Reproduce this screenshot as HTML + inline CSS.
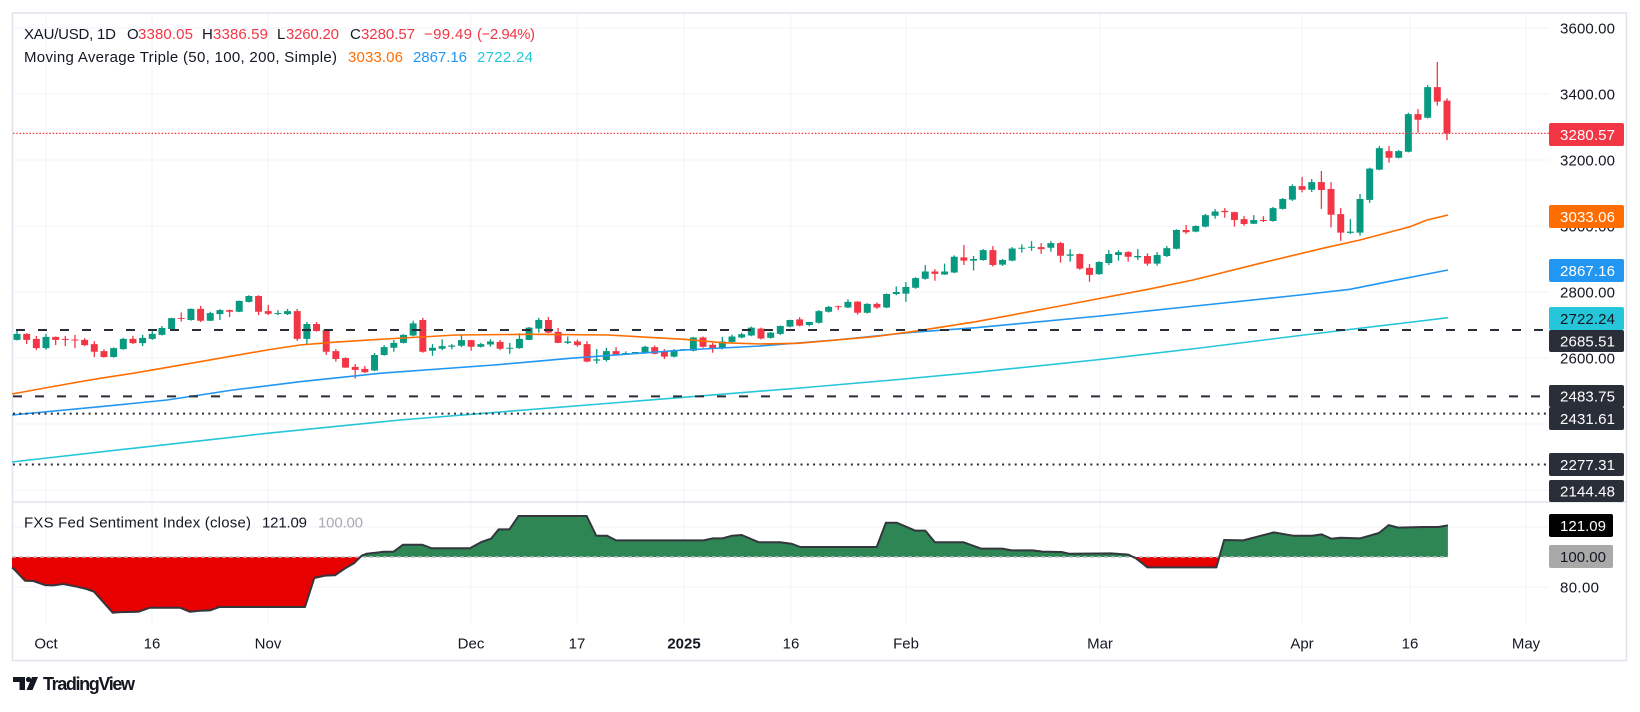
<!DOCTYPE html>
<html><head><meta charset="utf-8"><style>
html,body{margin:0;padding:0;background:#fff;}
body{width:1640px;height:707px;overflow:hidden;}
svg text{font-family:"Liberation Sans",sans-serif;}
</style></head><body>
<svg width="1640" height="707" viewBox="0 0 1640 707" xmlns="http://www.w3.org/2000/svg">
<rect x="0" y="0" width="1640" height="707" fill="#fff"/>
<rect x="12.5" y="13" width="1614" height="647.5" fill="none" stroke="#e0e3eb" stroke-width="1.5"/>
<g stroke="#f0f3fa" stroke-width="1">
<line x1="46" y1="14" x2="46" y2="623"/><line x1="152" y1="14" x2="152" y2="623"/>
<line x1="268" y1="14" x2="268" y2="623"/><line x1="471" y1="14" x2="471" y2="623"/>
<line x1="577" y1="14" x2="577" y2="623"/><line x1="684" y1="14" x2="684" y2="623"/>
<line x1="791" y1="14" x2="791" y2="623"/><line x1="906" y1="14" x2="906" y2="623"/>
<line x1="1100" y1="14" x2="1100" y2="623"/><line x1="1302" y1="14" x2="1302" y2="623"/>
<line x1="1410" y1="14" x2="1410" y2="623"/><line x1="1526" y1="14" x2="1526" y2="623"/>
</g>
<g stroke="#f0f3fa" stroke-width="1">
<line x1="13" y1="28" x2="1549" y2="28"/><line x1="13" y1="94" x2="1549" y2="94"/>
<line x1="13" y1="160" x2="1549" y2="160"/><line x1="13" y1="226" x2="1549" y2="226"/>
<line x1="13" y1="292" x2="1549" y2="292"/><line x1="13" y1="358" x2="1549" y2="358"/>
<line x1="13" y1="424" x2="1549" y2="424"/><line x1="13" y1="490" x2="1549" y2="490"/>
<line x1="13" y1="527" x2="1549" y2="527"/><line x1="13" y1="587" x2="1549" y2="587"/>
</g>
<line x1="13" y1="502" x2="1626" y2="502" stroke="#e0e3eb" stroke-width="1.5"/>

<!-- candles: x = 46 + i*9.662 ; y = 1216 - 0.33*price -->
<g transform="matrix(9.662 0 0 -0.33 46 1216)">
<path fill="none" stroke="#089981" stroke-width="1.3" vector-effect="non-scaling-stroke" d="M-3 2685V2653M0 2673V2625M7 2632V2601M8 2661V2625M10 2670V2636M11 2683V2655M12 2697V2668M13 2722V2686M15 2750V2713M17 2740V2712M18 2748V2715M20 2774V2739M21 2790V2768M24 2745V2730M25 2749V2730M27 2709V2642M34 2615V2560M35 2639V2607M36 2655V2619M37 2672V2644M38 2713V2666M40 2642V2607M41 2657V2624M42 2642V2626M43 2668V2633M45 2646V2632M46 2657V2634M48 2646V2613M49 2675V2628M50 2694V2654M51 2722V2677M54 2665V2642M57 2627V2583M58 2631V2589M60 2620V2609M61 2617V2613M62 2637V2612M65 2627V2602M66 2626V2622M67 2664V2620M70 2664V2626M71 2671V2645M72 2676V2660M73 2695V2666M75 2679V2659M76 2698V2670M77 2716V2693M79 2710V2696M80 2745V2704M81 2758V2738M83 2778V2751M85 2766V2735M87 2796V2751M88 2817V2790M89 2830V2770M90 2845V2810M91 2882V2837M93 2886V2852M94 2911V2857M96 2909V2865M97 2930V2895M99 2900V2879M100 2936V2893M101 2944V2919M102 2954V2925M104 2954V2922M106 2930V2892M109 2893V2852M110 2927V2882M111 2927V2895M113 2930V2897M115 2921V2880M116 2939V2906M117 2990V2929M119 3002V2981M120 3037V2996M121 3051V3022M125 3033V3006M127 3058V3013M128 3085V3050M129 3126V3076M131 3142V3103M135 3021V2976M136 3097V2971M137 3177V3070M138 3242V3169M140 3230V3205M141 3343V3223M143 3427V3326"/>
<path fill="none" stroke="#f23645" stroke-width="1.3" vector-effect="non-scaling-stroke" d="M-2 2675V2642M-1 2667V2624M1 2665V2639M2 2667V2636M3 2670V2630M4 2660V2636M5 2651V2603M6 2626V2601M9 2667V2642M14 2738V2711M16 2758V2709M19 2747V2724M22 2790V2730M23 2761V2730M26 2749V2652M28 2709V2680M29 2686V2609M30 2627V2589M31 2602V2570M32 2582V2538M33 2576V2554M39 2722V2616M44 2655V2622M47 2655V2624M52 2724V2675M53 2691V2645M55 2656V2634M56 2651V2587M59 2633V2609M63 2638V2611M64 2627V2597M68 2665V2631M69 2646V2616M74 2692V2656M78 2724V2696M82 2759V2745M84 2772V2731M86 2768V2749M92 2869V2834M95 2942V2882M98 2939V2877M103 2948V2916M105 2952V2889M107 2917V2867M108 2885V2831M112 2924V2892M114 2917V2880M118 3003V2976M122 3054V3025M123 3043V2998M124 3030V3001M126 3030V3012M130 3149V3102M132 3167V3052M133 3133V2996M134 3054V2955M139 3242V3192M142 3354V3283M144 3497V3365M145 3386.59V3260.2"/>
<path fill="#089981" d="M-3.36 2655h.72V2673h-.72zM-.36 2630h.72V2664h-.72zM6.64 2603h.72V2630h-.72zM7.64 2627h.72V2658h-.72zM9.64 2645h.72V2661h-.72zM10.64 2658h.72V2673h-.72zM11.64 2670h.72V2691h-.72zM12.64 2688h.72V2721h-.72zM14.64 2715h.72V2749h-.72zM16.64 2713h.72V2736h-.72zM17.64 2733h.72V2745h-.72zM19.64 2740h.72V2773h-.72zM20.64 2770h.72V2788h-.72zM23.64 2733h.72V2736h-.72zM24.64 2733h.72V2742h-.72zM26.64 2658h.72V2703h-.72zM33.64 2562h.72V2609h-.72zM34.64 2609h.72V2633h-.72zM35.64 2631h.72V2646h-.72zM36.64 2646h.72V2670h-.72zM37.64 2668h.72V2705h-.72zM39.64 2622h.72V2631h-.72zM40.64 2628h.72V2636h-.72zM41.64 2634h.72V2638h-.72zM42.64 2637h.72V2654h-.72zM44.64 2634h.72V2642h-.72zM45.64 2641h.72V2650h-.72zM47.64 2628h.72V2631h-.72zM48.64 2630h.72V2658h-.72zM49.64 2655h.72V2692h-.72zM50.64 2689h.72V2715h-.72zM53.64 2646h.72V2650h-.72zM56.64 2592h.72V2596h-.72zM57.64 2594h.72V2621h-.72zM59.64 2611h.72V2615h-.72zM60.64 2615h.72V2618h-.72zM61.64 2614h.72V2634h-.72zM64.64 2604h.72V2624h-.72zM65.64 2624h.72V2627h-.72zM66.64 2622h.72V2662h-.72zM69.64 2631h.72V2650h-.72zM70.64 2649h.72V2665h-.72zM71.64 2662h.72V2672h-.72zM72.64 2668h.72V2692h-.72zM74.64 2661h.72V2677h-.72zM75.64 2673h.72V2697h-.72zM76.64 2695h.72V2715h-.72zM78.64 2700h.72V2709h-.72zM79.64 2707h.72V2742h-.72zM80.64 2740h.72V2755h-.72zM82.64 2753h.72V2770h-.72zM84.64 2737h.72V2764h-.72zM86.64 2753h.72V2794h-.72zM87.64 2794h.72V2800h-.72zM88.64 2795h.72V2815h-.72zM89.64 2813h.72V2842h-.72zM90.64 2840h.72V2862h-.72zM92.64 2853h.72V2862h-.72zM93.64 2859h.72V2907h-.72zM95.64 2895h.72V2900h-.72zM96.64 2897h.72V2927h-.72zM98.64 2883h.72V2897h-.72zM99.64 2895h.72V2932h-.72zM100.64 2931h.72V2934h-.72zM101.64 2934h.72V2937h-.72zM103.64 2934h.72V2948h-.72zM105.64 2910h.72V2914h-.72zM108.64 2854h.72V2891h-.72zM109.64 2888h.72V2915h-.72zM110.64 2912h.72V2921h-.72zM112.64 2905h.72V2909h-.72zM114.64 2886h.72V2912h-.72zM115.64 2909h.72V2933h-.72zM116.64 2931h.72V2988h-.72zM118.64 2983h.72V3000h-.72zM119.64 2998h.72V3033h-.72zM120.64 3031h.72V3044h-.72zM124.64 3007h.72V3018h-.72zM126.64 3015h.72V3054h-.72zM127.64 3052h.72V3082h-.72zM128.64 3080h.72V3121h-.72zM130.64 3110h.72V3133h-.72zM134.64 2979h.72V2983h-.72zM135.64 2980h.72V3082h-.72zM136.64 3079h.72V3174h-.72zM137.64 3171h.72V3236h-.72zM139.64 3207h.72V3227h-.72zM140.64 3225h.72V3339h-.72zM142.64 3328h.72V3421h-.72z"/>
<path fill="#f23645" d="M-2.36 2655h.72V2673h-.72zM-1.36 2630h.72V2658h-.72zM.64 2655h.72V2664h-.72zM1.64 2655h.72V2658h-.72zM2.64 2653h.72V2656h-.72zM3.64 2639h.72V2655h-.72zM4.64 2619h.72V2642h-.72zM5.64 2603h.72V2621h-.72zM8.64 2645h.72V2658h-.72zM13.64 2718h.72V2721h-.72zM15.64 2713h.72V2749h-.72zM18.64 2740h.72V2745h-.72zM21.64 2740h.72V2788h-.72zM22.64 2734h.72V2742h-.72zM25.64 2658h.72V2742h-.72zM27.64 2682h.72V2703h-.72zM28.64 2619h.72V2685h-.72zM29.64 2597h.72V2621h-.72zM30.64 2571h.72V2600h-.72zM31.64 2564h.72V2573h-.72zM32.64 2557h.72V2567h-.72zM38.64 2619h.72V2715h-.72zM43.64 2634h.72V2654h-.72zM46.64 2628h.72V2649h-.72zM51.64 2677h.72V2715h-.72zM52.64 2646h.72V2679h-.72zM54.64 2639h.72V2650h-.72zM55.64 2589h.72V2642h-.72zM58.64 2611h.72V2621h-.72zM62.64 2613h.72V2633h-.72zM63.64 2604h.72V2621h-.72zM67.64 2634h.72V2662h-.72zM68.64 2630h.72V2640h-.72zM73.64 2659h.72V2689h-.72zM77.64 2698h.72V2717h-.72zM81.64 2754h.72V2757h-.72zM83.64 2737h.72V2771h-.72zM85.64 2753h.72V2764h-.72zM91.64 2855h.72V2862h-.72zM94.64 2895h.72V2905h-.72zM97.64 2882h.72V2927h-.72zM102.64 2930h.72V2936h-.72zM104.64 2910h.72V2948h-.72zM106.64 2871h.72V2915h-.72zM107.64 2852h.72V2873h-.72zM111.64 2907h.72V2921h-.72zM113.64 2886h.72V2909h-.72zM117.64 2981h.72V2988h-.72zM121.64 3042h.72V3046h-.72zM122.64 3018h.72V3042h-.72zM123.64 3006h.72V3021h-.72zM125.64 3015h.72V3018h-.72zM129.64 3110h.72V3121h-.72zM131.64 3109h.72V3133h-.72zM132.64 3034h.72V3112h-.72zM133.64 2980h.72V3036h-.72zM138.64 3207h.72V3227h-.72zM141.64 3322h.72V3339h-.72zM143.64 3377h.72V3421h-.72zM144.64 3280.57h.72V3380.05h-.72z"/>
</g>

<!-- moving averages -->
<polyline fill="none" stroke="#26c6da" stroke-width="1.6" points="12,462 133,448.3 267,433.3 400,420 600,404 800,388 893,380 976,372.3 1100,359.5 1200,348 1300,335.5 1400,323.5 1448,317.7"/>
<polyline fill="none" stroke="#2196f3" stroke-width="1.6" points="12,415 100,406.7 167,400 233,390 300,381.7 380,373.3 494,365 570,358.3 684,350 760,346 836,340 912,332.3 976,327.7 1100,316 1200,305.5 1300,295 1350,289.3 1393,280.7 1448,270"/>
<polyline fill="none" stroke="#ff6d00" stroke-width="1.6" points="12,394 67,384 100,378.3 133,373.3 200,361.7 267,350 300,345 333,342.3 380,339.3 456,335 532,334.3 608,335 684,339.3 722,342.7 760,344 798,343.3 874,336.7 912,331.7 976,321.7 1060,306 1148,289.3 1193,280 1260,263.3 1327,247.3 1360,240 1410,226.7 1427,220 1448,215"/>

<line x1="16" y1="330" x2="1549" y2="330" stroke="#2a2e39" stroke-width="2" stroke-dasharray="9 13"/>
<line x1="13" y1="396.4" x2="1549" y2="396.4" stroke="#2a2e39" stroke-width="2" stroke-dasharray="9 13"/>
<line x1="13" y1="413.6" x2="1549" y2="413.6" stroke="#2a2e39" stroke-width="2" stroke-dasharray="2 4.3"/>
<line x1="13" y1="464.5" x2="1549" y2="464.5" stroke="#2a2e39" stroke-width="2" stroke-dasharray="2 4.3"/>
<line x1="13" y1="133.4" x2="1549" y2="133.4" stroke="#f23645" stroke-width="1.2" stroke-dasharray="1.5 1.8"/>

<!-- sentiment pane -->
<defs>
<clipPath id="up"><rect x="0" y="500" width="1640" height="57"/></clipPath>
<clipPath id="dn"><rect x="0" y="557" width="1640" height="80"/></clipPath>
</defs>
<polygon clip-path="url(#up)" fill="#2e8655" points="12,567.5 13.3,568.4 25,580.7 33.3,581 45,585.1 53.3,585.4 63.3,584 76.7,586.7 86.7,589 94,591.7 112.7,612.7 120,612.1 138.3,611.8 150,607.7 180,607.7 190,611.8 200,610.7 210,610.4 219.3,607 305,607 314.3,578 325,575.6 335,575.3 345,568.4 354,563.3 361.7,555.7 366.7,553.7 383.3,551.8 393.4,551.8 403,544.7 422.1,544.7 431.7,548.3 469.9,548.3 481.4,542 491,538.7 498.6,529.4 509.4,529.4 518.5,516 586.7,516 596.2,535.7 606.9,535.7 616.1,540.4 703.4,540.4 713,538.4 722.5,538.4 732.1,535.7 741.7,535 758.9,542.3 779.9,542.3 791.4,543.7 800.2,547 876.7,547 885.9,522.7 896.6,522.7 908.1,527.6 915,530.6 925.3,530.6 934.9,542.3 963.6,542.3 981,548.6 1002.1,548.6 1011.7,550.4 1032.7,550.4 1042.3,551.6 1061.4,552 1069.1,553.7 1111.2,553.4 1128.4,554.6 1136,558.4 1147.5,567.4 1216.4,567.4 1224.1,540 1243.2,540.4 1273.8,532.4 1293,535.7 1312.1,535.7 1321.7,534.4 1331.2,538.7 1340.8,537.7 1359.9,538.4 1379,533 1388.6,525.1 1398.2,527.6 1423.1,527 1438.4,527 1447.9,525.4 1447.9,557 12,557"/>
<polygon clip-path="url(#dn)" fill="#e60000" points="12,567.5 13.3,568.4 25,580.7 33.3,581 45,585.1 53.3,585.4 63.3,584 76.7,586.7 86.7,589 94,591.7 112.7,612.7 120,612.1 138.3,611.8 150,607.7 180,607.7 190,611.8 200,610.7 210,610.4 219.3,607 305,607 314.3,578 325,575.6 335,575.3 345,568.4 354,563.3 361.7,555.7 366.7,553.7 383.3,551.8 393.4,551.8 403,544.7 422.1,544.7 431.7,548.3 469.9,548.3 481.4,542 491,538.7 498.6,529.4 509.4,529.4 518.5,516 586.7,516 596.2,535.7 606.9,535.7 616.1,540.4 703.4,540.4 713,538.4 722.5,538.4 732.1,535.7 741.7,535 758.9,542.3 779.9,542.3 791.4,543.7 800.2,547 876.7,547 885.9,522.7 896.6,522.7 908.1,527.6 915,530.6 925.3,530.6 934.9,542.3 963.6,542.3 981,548.6 1002.1,548.6 1011.7,550.4 1032.7,550.4 1042.3,551.6 1061.4,552 1069.1,553.7 1111.2,553.4 1128.4,554.6 1136,558.4 1147.5,567.4 1216.4,567.4 1224.1,540 1243.2,540.4 1273.8,532.4 1293,535.7 1312.1,535.7 1321.7,534.4 1331.2,538.7 1340.8,537.7 1359.9,538.4 1379,533 1388.6,525.1 1398.2,527.6 1423.1,527 1438.4,527 1447.9,525.4 1447.9,557 12,557"/>
<line x1="12" y1="557" x2="1448" y2="557" stroke="#b8bbc2" stroke-width="1.5" stroke-dasharray="4 3"/>
<polyline fill="none" stroke="#33363d" stroke-width="2" stroke-linejoin="round" points="12,567.5 13.3,568.4 25,580.7 33.3,581 45,585.1 53.3,585.4 63.3,584 76.7,586.7 86.7,589 94,591.7 112.7,612.7 120,612.1 138.3,611.8 150,607.7 180,607.7 190,611.8 200,610.7 210,610.4 219.3,607 305,607 314.3,578 325,575.6 335,575.3 345,568.4 354,563.3 361.7,555.7 366.7,553.7 383.3,551.8 393.4,551.8 403,544.7 422.1,544.7 431.7,548.3 469.9,548.3 481.4,542 491,538.7 498.6,529.4 509.4,529.4 518.5,516 586.7,516 596.2,535.7 606.9,535.7 616.1,540.4 703.4,540.4 713,538.4 722.5,538.4 732.1,535.7 741.7,535 758.9,542.3 779.9,542.3 791.4,543.7 800.2,547 876.7,547 885.9,522.7 896.6,522.7 908.1,527.6 915,530.6 925.3,530.6 934.9,542.3 963.6,542.3 981,548.6 1002.1,548.6 1011.7,550.4 1032.7,550.4 1042.3,551.6 1061.4,552 1069.1,553.7 1111.2,553.4 1128.4,554.6 1136,558.4 1147.5,567.4 1216.4,567.4 1224.1,540 1243.2,540.4 1273.8,532.4 1293,535.7 1312.1,535.7 1321.7,534.4 1331.2,538.7 1340.8,537.7 1359.9,538.4 1379,533 1388.6,525.1 1398.2,527.6 1423.1,527 1438.4,527 1447.9,525.4"/>

<!-- legend -->
<text x="24" y="39" font-size="15" fill="#131722" textLength="92">XAU/USD, 1D</text>
<text x="127" y="39" font-size="15" fill="#131722">O</text>
<text x="138" y="39" font-size="15" fill="#f23645" textLength="55">3380.05</text>
<text x="202" y="39" font-size="15" fill="#131722">H</text>
<text x="213" y="39" font-size="15" fill="#f23645" textLength="55">3386.59</text>
<text x="277" y="39" font-size="15" fill="#131722">L</text>
<text x="286" y="39" font-size="15" fill="#f23645" textLength="53">3260.20</text>
<text x="350" y="39" font-size="15" fill="#131722">C</text>
<text x="361" y="39" font-size="15" fill="#f23645" textLength="54">3280.57</text>
<text x="424" y="39" font-size="15" fill="#f23645" textLength="48">−99.49</text>
<text x="477" y="39" font-size="15" fill="#f23645" textLength="58">(−2.94%)</text>
<text x="24" y="62" font-size="15" fill="#131722" textLength="313">Moving Average Triple (50, 100, 200, Simple)</text>
<text x="348" y="62" font-size="15" fill="#ff6d00" textLength="55">3033.06</text>
<text x="413" y="62" font-size="15" fill="#2196f3" textLength="54">2867.16</text>
<text x="477" y="62" font-size="15" fill="#26c6da" textLength="56">2722.24</text>
<text x="24" y="527.5" font-size="15" fill="#131722" textLength="227">FXS Fed Sentiment Index (close)</text>
<text x="262" y="527.5" font-size="15" fill="#131722" textLength="45">121.09</text>
<text x="318" y="527.5" font-size="15" fill="#a8abb3" textLength="45">100.00</text>

<!-- price axis -->
<g font-size="15" fill="#131722">
<text x="1560" y="33.5" textLength="55">3600.00</text>
<text x="1560" y="99.5" textLength="55">3400.00</text>
<text x="1560" y="165.5" textLength="55">3200.00</text>
<text x="1560" y="231.5" textLength="55">3000.00</text>
<text x="1560" y="297.5" textLength="55">2800.00</text>
<text x="1560" y="363.5" textLength="55">2600.00</text>
<text x="1560" y="592.5" textLength="39">80.00</text>
</g>
<rect x="1549" y="123" width="75" height="23" rx="2" fill="#f23645"/>
<text x="1560" y="140" font-size="15" fill="#fff" textLength="55">3280.57</text>
<rect x="1549" y="205" width="75" height="23" rx="2" fill="#ff6d00"/>
<text x="1560" y="222" font-size="15" fill="#fff" textLength="55">3033.06</text>
<rect x="1549" y="259" width="75" height="23" rx="2" fill="#2196f3"/>
<text x="1560" y="276" font-size="15" fill="#fff" textLength="55">2867.16</text>
<rect x="1549" y="307" width="75" height="23" rx="2" fill="#26c6da"/>
<text x="1560" y="324" font-size="15" fill="#131722" textLength="55">2722.24</text>
<rect x="1549" y="330" width="75" height="22" rx="2" fill="#2a2e39"/>
<text x="1560" y="346.5" font-size="15" fill="#fff" textLength="55">2685.51</text>
<rect x="1549" y="385" width="75" height="22" rx="2" fill="#2a2e39"/>
<text x="1560" y="401.5" font-size="15" fill="#fff" textLength="55">2483.75</text>
<rect x="1549" y="407" width="75" height="23" rx="2" fill="#2a2e39"/>
<text x="1560" y="424" font-size="15" fill="#fff" textLength="55">2431.61</text>
<rect x="1549" y="453" width="75" height="23" rx="2" fill="#2a2e39"/>
<text x="1560" y="470" font-size="15" fill="#fff" textLength="55">2277.31</text>
<rect x="1549" y="480" width="75" height="22" rx="2" fill="#2a2e39"/>
<text x="1560" y="496.5" font-size="15" fill="#fff" textLength="55">2144.48</text>
<rect x="1549" y="514" width="64" height="23" rx="2" fill="#000"/>
<text x="1560" y="531" font-size="15" fill="#fff" textLength="46">121.09</text>
<rect x="1549" y="545" width="64" height="23" rx="2" fill="#a9a9a9"/>
<text x="1560" y="562" font-size="15" fill="#131722" textLength="46">100.00</text>

<!-- time axis -->
<g font-size="15" fill="#131722" text-anchor="middle">
<text x="46" y="648.5">Oct</text>
<text x="152" y="648.5">16</text>
<text x="268" y="648.5">Nov</text>
<text x="471" y="648.5">Dec</text>
<text x="577" y="648.5">17</text>
<text x="684" y="648.5" font-weight="bold">2025</text>
<text x="791" y="648.5">16</text>
<text x="906" y="648.5">Feb</text>
<text x="1100" y="648.5">Mar</text>
<text x="1302" y="648.5">Apr</text>
<text x="1410" y="648.5">16</text>
<text x="1526" y="648.5">May</text>
</g>

<!-- TradingView logo -->
<g fill="#131722">
<path d="M13 677 H25 V690 H19.5 V682 H13 Z"/>
<circle cx="28.5" cy="679.5" r="2.6"/>
<path d="M32 677 H38 L32.5 690 H26.5 Z"/>
</g>
<text x="43" y="690" font-size="18" font-weight="bold" fill="#131722" textLength="92">TradingView</text>
</svg>
</body></html>
